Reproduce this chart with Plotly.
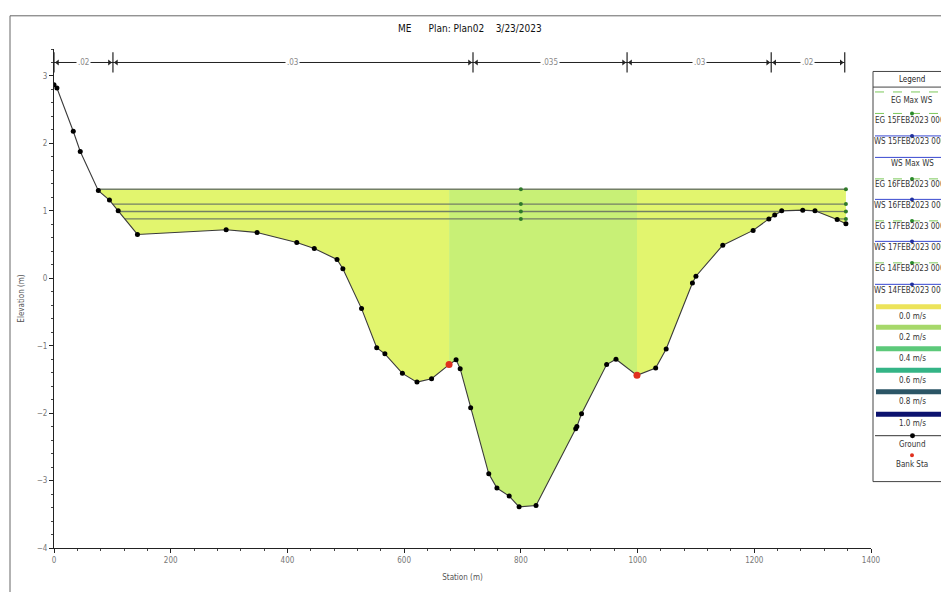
import numpy as np
import plotly.graph_objects as go

# ---------------- data ----------------
station = [0, 5, 33, 45, 76, 95, 110, 143, 295, 348, 416, 446, 485, 495, 527, 553, 567,
           597, 622, 647, 677, 689, 696, 714, 745, 759, 780, 797, 826, 894, 896, 904,
           947, 963, 999, 1031, 1049, 1094, 1100, 1146, 1198, 1225, 1235, 1247, 1283,
           1304, 1342, 1357]
elevation = [2.87, 2.82, 2.18, 1.88, 1.30, 1.16, 1.00, 0.65, 0.72, 0.68, 0.53, 0.44, 0.28,
             0.14, -0.45, -1.03, -1.12, -1.41, -1.54, -1.49, -1.28, -1.21, -1.34, -1.92,
             -2.90, -3.11, -3.23, -3.39, -3.37, -2.23, -2.20, -2.01, -1.28, -1.20, -1.44,
             -1.33, -1.05, -0.07, 0.03, 0.49, 0.71, 0.88, 0.94, 1.00, 1.01, 1.00, 0.87, 0.81]
bank_stations = [677, 999]
ws_levels = [1.32, 1.10, 0.99, 0.88]
ws_marker_station = 800
n_breaks = [0, 101, 718, 982, 1229, 1355]
n_values = [".02", ".03", ".035", ".03", ".02"]
n_bar_elev = 3.2
x_ticks = [0, 200, 400, 600, 800, 1000, 1200, 1400]
y_ticks = [-4, -3, -2, -1, 0, 1, 2, 3]
profile_labels = ["EG Max WS", "EG 15FEB2023 0000", "WS 15FEB2023 0000", "WS Max WS",
                  "EG 16FEB2023 0000", "WS 16FEB2023 0000", "EG 17FEB2023 0000",
                  "WS 17FEB2023 0000", "EG 14FEB2023 0000", "WS 14FEB2023 0000"]
velocity_labels = ["0.0 m/s", "0.2 m/s", "0.4 m/s", "0.6 m/s", "0.8 m/s", "1.0 m/s"]
velocity_colors = ["#ece35a", "#a6d86a", "#5cc97a", "#34b486", "#2b5566", "#0c126e"]
zone_colors = ["#e2f56e", "#c8f076", "#e2f56e"]

FONT = "Liberation Sans Narrow, DejaVu Sans Condensed, Arial Narrow, sans-serif"
S = np.array(station, float)
Z = np.array(elevation, float)


def wet_segments(level):
    segs, cur = [], None
    for i in range(len(S)):
        if Z[i] < level:
            if cur is None:
                if i > 0:
                    t = (level - Z[i - 1]) / (Z[i] - Z[i - 1])
                    cur = [S[i - 1] + t * (S[i] - S[i - 1])]
                else:
                    cur = [S[i]]
        else:
            if cur is not None:
                t = (level - Z[i - 1]) / (Z[i] - Z[i - 1])
                cur.append(S[i - 1] + t * (S[i] - S[i - 1]))
                segs.append((cur[0], cur[-1]))
                cur = None
    if cur is not None:
        segs.append((cur[0], S[-1]))
    return segs


fig = go.Figure()

# ---- velocity-zone fills up to highest water surface ----
top = max(ws_levels)
wet = wet_segments(top)
x_left, x_right = wet[0][0], wet[-1][1]
zones = [(x_left, bank_stations[0]), (bank_stations[0], bank_stations[1]),
         (bank_stations[1], x_right)]
for (a, b), col in zip(zones, zone_colors):
    xs = [a] + [s for s in station if a < s < b] + [b]
    zs = [min(float(np.interp(x, S, Z)), top) for x in xs]
    fig.add_trace(go.Scatter(x=xs + [b, a, a], y=zs + [top, top, zs[0]],
                             fill="toself", fillcolor=col, mode="lines",
                             line=dict(width=0), hoverinfo="skip", showlegend=False))

# ---- water surface lines ----
for lev in ws_levels:
    xs, ys = [], []
    for a, b in wet_segments(lev):
        xs += [a, b, None]
        ys += [lev, lev, None]
    fig.add_trace(go.Scatter(x=xs, y=ys, mode="lines",
                             line=dict(color="#737f66", width=1.3),
                             showlegend=False, hoverinfo="skip"))
fig.add_trace(go.Scatter(x=[ws_marker_station] * len(ws_levels) + [station[-1]] * len(ws_levels),
                         y=ws_levels + ws_levels, mode="markers",
                         marker=dict(color="#2f7a2a", size=4), showlegend=False))

# ---- ground ----
fig.add_trace(go.Scatter(x=station, y=elevation, mode="lines+markers",
                         line=dict(color="#3a3a3a", width=1.1),
                         marker=dict(color="#000000", size=5), showlegend=False))
bank_elev = [float(np.interp(b, S, Z)) for b in bank_stations]
fig.add_trace(go.Scatter(x=bank_stations, y=bank_elev, mode="markers",
                         marker=dict(color="#e0301e", size=7), showlegend=False))

# ---- Manning's n bar ----
fig.add_trace(go.Scatter(x=[n_breaks[0], n_breaks[-1]], y=[n_bar_elev, n_bar_elev],
                         mode="lines", line=dict(color="#222", width=1),
                         showlegend=False, hoverinfo="skip"))
tx, ty = [], []
for b in n_breaks:
    tx += [b, b, None]
    ty += [n_bar_elev - 0.15, n_bar_elev + 0.15, None]
fig.add_trace(go.Scatter(x=tx, y=ty, mode="lines", line=dict(color="#222", width=1.2),
                         showlegend=False, hoverinfo="skip"))
# small arrow heads pointing at each break
ax_l = [b + 6 for b in n_breaks[:-1]]
ax_r = [b - 6 for b in n_breaks[1:]]
fig.add_trace(go.Scatter(x=ax_l, y=[n_bar_elev] * len(ax_l), mode="markers",
                         marker=dict(symbol="triangle-left", size=5, color="#222"),
                         showlegend=False, hoverinfo="skip"))
fig.add_trace(go.Scatter(x=ax_r, y=[n_bar_elev] * len(ax_r), mode="markers",
                         marker=dict(symbol="triangle-right", size=5, color="#222"),
                         showlegend=False, hoverinfo="skip"))
for i, v in enumerate(n_values):
    fig.add_annotation(x=(n_breaks[i] + n_breaks[i + 1]) / 2, y=n_bar_elev, text=v,
                       showarrow=False, bgcolor="white",
                       font=dict(family=FONT, size=8, color="#888"))

# ---------------- geometry helpers (window px -> paper) ----------------
PLOT_TOP, PLOT_BOTTOM = 49, 560  # window pixels
PLOT_H = PLOT_BOTTOM - PLOT_TOP


def px(p):
    return (p - 54) / 817.0


def py(p):
    return (PLOT_BOTTOM - p) / PLOT_H


shapes = []
annots = []
# outer frame
shapes.append(dict(type="rect", xref="paper", yref="paper", x0=px(10), x1=px(965),
                   y0=py(15), y1=py(610), line=dict(color="#666", width=1)))
# legend box
shapes.append(dict(type="rect", xref="paper", yref="paper", x0=px(873), x1=px(965),
                   y0=py(72), y1=py(492), line=dict(color="#444", width=1),
                   fillcolor="white"))
shapes.append(dict(type="line", xref="paper", yref="paper", x0=px(873), x1=px(965),
                   y0=py(88), y1=py(88), line=dict(color="#444", width=1)))
annots.append(dict(x=px(912), y=py(80), text="Legend", font=dict(family=FONT, size=8, color="#222")))

line_ys = [93, 115, 138, 160, 182, 203, 225, 246, 268, 290]
text_ys = [102, 122, 144, 166, 188, 209, 231, 252, 274, 296]
for lab, ly, ty_ in zip(profile_labels, line_ys, text_ys):
    is_eg = lab.startswith("EG")
    col = "#7cc85a" if is_eg else "#3848d0"
    dash = "dash" if is_eg else "solid"
    shapes.append(dict(type="line", xref="paper", yref="paper", x0=px(875), x1=px(960),
                       y0=py(ly), y1=py(ly), line=dict(color=col, width=1, dash=dash)))
    if "Max" not in lab:
        mc = "#2a8a2a" if is_eg else "#2030a0"
        shapes.append(dict(type="circle", xref="paper", yref="paper",
                           x0=px(910), x1=px(914), y0=py(ly - 2), y1=py(ly + 2),
                           fillcolor=mc, line=dict(width=0)))
    annots.append(dict(x=px(912), y=py(ty_), text=lab,
                       font=dict(family=FONT, size=8, color="#333")))

vbar_ys = [313, 334, 356, 378, 400, 423]
for lab, col, vy in zip(velocity_labels, velocity_colors, vbar_ys):
    shapes.append(dict(type="line", xref="paper", yref="paper", x0=px(876), x1=px(962),
                       y0=py(vy), y1=py(vy), line=dict(color=col, width=5)))
    annots.append(dict(x=px(912), y=py(vy + 10), text=lab,
                       font=dict(family=FONT, size=8, color="#333")))

shapes.append(dict(type="line", xref="paper", yref="paper", x0=px(875), x1=px(960),
                   y0=py(445), y1=py(445), line=dict(color="#333", width=1)))
shapes.append(dict(type="circle", xref="paper", yref="paper", x0=px(910), x1=px(915),
                   y0=py(442.5), y1=py(447.5), fillcolor="black", line=dict(width=0)))
annots.append(dict(x=px(912), y=py(454), text="Ground", font=dict(family=FONT, size=8, color="#333")))
shapes.append(dict(type="circle", xref="paper", yref="paper", x0=px(910), x1=px(914),
                   y0=py(463), y1=py(467), fillcolor="#e0301e", line=dict(width=0)))
annots.append(dict(x=px(912), y=py(475), text="Bank Sta", font=dict(family=FONT, size=8, color="#333")))

# title
annots.append(dict(x=px(470), y=py(28), text="ME&nbsp;&nbsp;&nbsp;&nbsp;&nbsp;&nbsp;Plan: Plan02&nbsp;&nbsp;&nbsp;&nbsp;3/23/2023",
                   font=dict(family=FONT, size=10, color="#111")))

for a in annots:
    a.update(xref="paper", yref="paper", showarrow=False, xanchor="center", yanchor="middle")
    fig.add_annotation(**a)

# page has an 8px body margin: figure is placed at (8, 8) in the window
fig.update_layout(
    width=941, height=584,
    margin=dict(l=46, r=78, t=PLOT_TOP - 8, b=592 - PLOT_BOTTOM),
    paper_bgcolor="white", plot_bgcolor="white",
    shapes=shapes,
    showlegend=False,
    font=dict(family=FONT, size=8, color="#666"),
    xaxis=dict(range=[0, 1400], tickvals=x_ticks, showgrid=False, zeroline=False,
               showline=True, linecolor="#222", linewidth=1, ticks="outside",
               ticklen=4, tickcolor="#222",
               minor=dict(dtick=40, ticks="outside", ticklen=2, tickcolor="#444"),
               tickfont=dict(family=FONT, size=8, color="#777"),
               title=dict(text="Station (m)", standoff=10,
                          font=dict(family=FONT, size=8, color="#555"))),
    yaxis=dict(range=[-4, 3.4], tickvals=y_ticks, showgrid=False, zeroline=False,
               showline=True, linecolor="#222", linewidth=1, ticks="outside",
               ticklen=4, tickcolor="#222",
               minor=dict(dtick=0.2, ticks="outside", ticklen=2, tickcolor="#444"),
               tickfont=dict(family=FONT, size=8, color="#777"),
               title=dict(text="Elevation (m)", standoff=10,
                          font=dict(family=FONT, size=8, color="#555"))),
)

fig.write_html("out.html")
